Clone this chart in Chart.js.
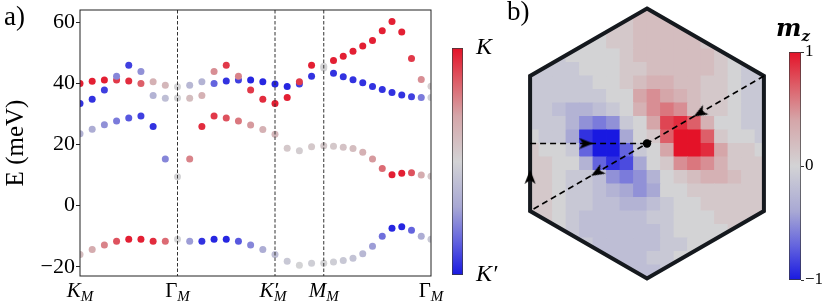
<!DOCTYPE html>
<html>
<head>
<meta charset="utf-8">
<title>Valley-resolved moire bands and m_z</title>
<script src="https://cdn.jsdelivr.net/npm/chart.js@4.4.1/dist/chart.umd.min.js"></script>
<style>
  body { margin: 0; width: 831px; height: 306px; position: relative; overflow: hidden; background: #fff; }
  canvas { position: absolute; }
  .lbl { position: absolute; line-height: 1; color: #000; font-family: 'Liberation Serif', serif; white-space: nowrap; }
</style>
</head>
<body>
<canvas id="bands" width="445" height="306" style="left:0;top:0"></canvas>
<canvas id="cbarK" width="70" height="276" style="left:440px;top:30px"></canvas>
<canvas id="bz" width="300" height="306" style="left:500px;top:0"></canvas>
<canvas id="cbarM" width="56" height="276" style="left:775px;top:30px"></canvas>
<div class="lbl" style="left:4px;top:3px;font-size:27px">a)</div>
<div class="lbl" style="left:507px;top:-2px;font-size:27px">b)</div>
<div class="lbl" style="left:776px;top:16px;font:bold italic 24px 'DejaVu Serif',serif;line-height:1">m<span style="font-size:15px;position:relative;top:5px">z</span></div>
<script>
Chart.defaults.font.family = "'Liberation Serif', serif";

// k path K_M -> Γ_M -> K'_M -> M_M -> Γ_M
const kPath = [0, 1, 2, 3, 4, 5, 6, 7, 8, 9, 10, 11, 12, 13, 14, 15, 16, 17, 18, 19, 20,
  20.8, 21.6, 22.4, 23.2, 24, 24.8, 25.6, 26.4, 27.2, 28, 28.8];
const kTicks = [0, 8, 16, 20, 28.8];
const kTickNames = ['K', 'Γ', 'K′', 'M', 'Γ'];
const eTicks = [-20, 0, 20, 40, 60];

// energies (meV) and valley weight (+1 = K, -1 = K')
const eUpper = [40.0, 40.7, 41.1, 42.3, 45.9, 43.9, 40.5, 39.4, 38.9, 39.4, 40.5, 43.9, 45.9, 42.3, 41.1, 40.5,
  39.8, 39.0, 40.5, 45.9, 45.6, 47.5, 48.9, 50.5, 52.2, 54.0, 57.2, 60.2, 56.8, 48.1, 41.3, 39.1];
const vUpper = [0.95, 0.95, 0.95, -0.55, -0.85, -0.5, 0.3, 0.25, 0, -0.25, -0.3, 0.5, 0.85, 0.55, -0.95, -0.95,
  -0.95, -0.95, 0.85, 0.95, 0, 0.95, 0.95, 0.95, 0.95, 0.95, 0.95, 0.95, 0.95, 0.85, 0.5, 0.05];
const eLower = [33.4, 34.8, 37.8, 41.1, 40.8, 40.0, 36.0, 35.1, 35.2, 35.1, 36.0, 40.0, 40.8, 41.1, 37.8, 34.8,
  33.4, 35.4, 39.8, 42.3, 45.0, 43.3, 42.2, 41.2, 40.2, 39.0, 38.0, 37.0, 36.2, 35.6, 35.4, 35.4];
const vLower = [-0.9, -0.9, -0.85, 0.85, 0.9, 0.7, -0.3, -0.2, 0, 0.2, 0.3, -0.7, -0.9, -0.85, 0.85, 0.9,
  0.95, 0.95, -0.85, -0.9, 0, -0.9, -0.9, -0.9, -0.9, -0.9, -0.9, -0.9, -0.9, -0.85, -0.6, -0.05];
const eMid = [23.5, 25.0, 26.5, 27.7, 28.7, 29.3, 25.9, 15.3, 9.5, 15.3, 25.9, 29.3, 28.7, 27.7, 26.4, 24.9,
  23.4, 18.8, 18.0, 19.3, 19.6, 19.4, 19.1, 18.7, 17.5, 15.3, 12.2, 10.1, 10.6, 10.8, 10.0, 9.6];
const vMid = [-0.3, -0.35, -0.5, -0.6, -0.75, -0.85, -0.9, -0.55, 0, 0.55, 0.9, 0.85, 0.75, 0.6, 0.45, 0.3,
  0.25, 0.1, 0.05, 0.1, 0.1, 0.1, 0.15, 0.2, 0.3, 0.45, 0.65, 0.95, 0.95, 0.75, 0.35, 0.1];
const eLow = [-16.0, -14.3, -12.9, -11.6, -11.0, -11.0, -11.6, -11.6, -11.0, -11.6, -11.6, -11.0, -11.0, -11.6, -12.9, -14.3,
  -16.0, -18.2, -19.5, -18.8, -18.8, -18.4, -17.9, -17.2, -15.7, -13.3, -10.0, -7.4, -6.9, -8.0, -10.0, -11.0];
const vLow = [0.2, 0.35, 0.55, 0.75, 0.95, 0.95, 0.9, 0.65, 0, -0.45, -0.9, -0.95, -0.95, -0.75, -0.55, -0.35,
  -0.2, -0.1, 0, -0.05, 0, -0.05, -0.1, -0.15, -0.25, -0.45, -0.65, -0.95, -0.95, -0.7, -0.35, -0.1];

// panel b: m_z on the moire BZ (tenths), rows top to bottom
const heatU = [-0.85, -0.75, -0.65, -0.55, -0.45, -0.35, -0.25, -0.15, -0.05, 0.05, 0.15, 0.25, 0.35, 0.45, 0.55, 0.65, 0.75, 0.85];
const heatV = [0.95, 0.85, 0.75, 0.65, 0.55, 0.45, 0.35, 0.25, 0.15, 0.05, -0.05, -0.15, -0.25, -0.35, -0.45, -0.55, -0.65, -0.75, -0.85, -0.95];
const mzTenths = [
  [0, 0, 0, 0, 0, 0, 1, 1, 2, 2, 2, 2, 1, 1, 0, 0, 0, 0],
  [0, 0, 0, 0, 0, 0, 1, 1, 2, 2, 2, 2, 2, 1, 0, 0, 0, 0],
  [0, 0, 0, 0, 0, 0, 1, 1, 2, 2, 2, 2, 2, 1, 1, 0, 0, 0],
  [-1, -1, -1, 0, 0, 0, 0, 1, 2, 2, 2, 2, 2, 2, 1, 0, 0, -1],
  [-1, -1, -1, -1, 0, 0, 0, 1, 1, 2, 2, 2, 2, 2, 1, 0, -1, -1],
  [-1, -1, -1, -1, -1, 0, 0, 1, 2, 3, 3, 2, 2, 1, 1, 0, -1, -1],
  [-1, -1, -1, -1, -1, -1, 0, 0, 4, 5, 4, 3, 2, 1, 1, 0, -1, -1],
  [-1, -1, -2, -3, -3, -2, -1, 0, 3, 5, 6, 5, 2, 1, 1, 0, -1, -1],
  [-1, -1, -1, -3, -5, -6, -5, -1, 0, 4, 8, 9, 7, 3, 0, 0, -1, -1],
  [0, -1, -1, -4, -9, -10, -10, -4, 0, 1, 7, 10, 10, 7, 1, 0, 0, -1],
  [1, 0, 0, -1, -7, -10, -10, -7, -1, 0, 4, 10, 10, 9, 4, 1, 1, 0],
  [1, 1, 0, 0, -3, -7, -9, -8, -4, 0, 1, 5, 6, 5, 3, 1, 1, 1],
  [1, 1, 0, -1, -1, -2, -5, -6, -5, -3, 0, 1, 2, 3, 3, 2, 1, 1],
  [1, 1, 0, -1, -1, -2, -3, -4, -5, -4, 0, 0, 1, 1, 1, 1, 1, 1],
  [1, 1, 0, -1, -1, -2, -2, -3, -3, -2, -1, 0, 0, 1, 1, 1, 1, 1],
  [1, 1, 0, -1, -2, -2, -2, -2, -2, -1, -1, 0, 0, 0, 1, 1, 1, 1],
  [1, 0, 0, -1, -2, -2, -2, -2, -2, -2, -1, 0, 0, 0, 0, 1, 1, 1],
  [0, 0, 0, -1, -1, -2, -2, -2, -2, -2, -1, -1, 0, 0, 0, 0, 0, 0],
  [0, 0, 0, 0, -1, -2, -2, -2, -2, -1, -1, 0, 0, 0, 0, 0, 0, 0],
  [0, 0, 0, 0, -1, -1, -2, -2, -2, -2, -1, -1, 0, 0, 0, 0, 0, 0]
];

// BZ outline and path K -> Γ -> K' -> M -> Γ
const hexU = [0, 0.866, 0.866, 0, -0.866, -0.866, 0, 0.866];
const hexV = [1, 0.5, -0.5, -1, -0.5, 0.5, 1, 0.5];
const pathKGU = [0.866, 0, -0.866];
const pathKGV = [0.5, 0, -0.5];
const pathMGU = [-0.866, 0];
const pathMGV = [0, 0];
const arrowU = [0.39, -0.37, -0.866, -0.45];
const arrowV = [0.225, -0.214, -0.246, 0];
const arrowRot = [240, 240, 0, 90];

// colormap (blue - grey - red)
const cmapPos = [-1, -0.7, -0.4, 0, 0.4, 0.7, 1];
const cmapRGB = [[25, 25, 225], [100, 100, 222], [168, 168, 212], [211, 211, 213], [213, 166, 169], [221, 95, 105], [228, 18, 40]];

function cmap(c) {
  c = Math.max(-1, Math.min(1, c));
  let i = 0;
  while (i < cmapPos.length - 2 && c > cmapPos[i + 1]) i++;
  const t = (c - cmapPos[i]) / (cmapPos[i + 1] - cmapPos[i]);
  const a = cmapRGB[i], b = cmapRGB[i + 1];
  return 'rgb(' + a.map((v, j) => Math.round(v + (b[j] - v) * t)).join(',') + ')';
}

function gradientFill(c) {
  const a = c.chart.chartArea;
  if (!a) return null;
  const g = c.chart.ctx.createLinearGradient(0, a.bottom, 0, a.top);
  cmapPos.forEach((p, i) => g.addColorStop((p + 1) / 2, 'rgb(' + cmapRGB[i].join(',') + ')'));
  return g;
}

// arrow head pointing up, rotated per point by Chart.js
function makeArrowHead() {
  const c = document.createElement('canvas');
  c.width = 12;
  c.height = 14;
  const g = c.getContext('2d');
  g.fillStyle = '#000';
  g.beginPath();
  g.moveTo(6, 0);
  g.lineTo(11.5, 14);
  g.lineTo(6, 10.5);
  g.lineTo(0.5, 14);
  g.closePath();
  g.fill();
  return c;
}

const pts = (us, vs) => us.map((u, i) => ({ x: u, y: vs[i] }));

// ---------- panel a ----------
const bandDecor = {
  id: 'bandDecor',
  afterDatasetsDraw(chart) {
    const { ctx, chartArea: a, scales: { x } } = chart;
    ctx.save();
    ctx.strokeStyle = '#333';
    ctx.lineWidth = 1;
    ctx.setLineDash([3.5, 2]);
    kTicks.slice(1, -1).forEach(k => {
      const px = x.getPixelForValue(k);
      ctx.beginPath();
      ctx.moveTo(px, a.top);
      ctx.lineTo(px, a.bottom);
      ctx.stroke();
    });
    ctx.setLineDash([]);
    ctx.strokeStyle = '#222';
    ctx.strokeRect(a.left, a.top, a.right - a.left, a.bottom - a.top);

    ctx.fillStyle = '#000';
    ctx.textBaseline = 'alphabetic';
    kTicks.forEach((k, i) => {
      const name = kTickNames[i];
      const mainFont = (name === 'Γ' ? '' : 'italic ') + '21px "Liberation Serif"';
      const subFont = 'italic 15px "Liberation Serif"';
      ctx.font = mainFont;
      const w1 = ctx.measureText(name).width;
      ctx.font = subFont;
      const w2 = ctx.measureText('M').width;
      const x0 = x.getPixelForValue(k) - (w1 + w2) / 2;
      ctx.font = mainFont;
      ctx.fillText(name, x0, a.bottom + 21);
      ctx.font = subFont;
      ctx.fillText('M', x0 + w1 - (name === 'K′' ? 4 : 0), a.bottom + 25);
    });
    ctx.restore();
  }
};

const bandData = [[eUpper, vUpper], [eLower, vLower], [eMid, vMid], [eLow, vLow]];

new Chart(document.getElementById('bands'), {
  type: 'scatter',
  data: {
    datasets: bandData.map(([e, v]) => ({
      data: kPath.map((k, i) => ({ x: k, y: e[i] })),
      pointRadius: 3.5,
      pointBorderWidth: 0,
      pointBackgroundColor: v.map(cmap)
    }))
  },
  options: {
    responsive: false,
    animation: false,
    devicePixelRatio: 1,
    events: [],
    layout: { padding: { left: 0, right: 14, top: 10, bottom: 30 } },
    plugins: { legend: { display: false }, tooltip: { enabled: false } },
    scales: {
      x: { type: 'linear', min: kPath[0], max: kPath[kPath.length - 1], display: false },
      y: {
        min: -23,
        max: 64,
        afterBuildTicks: s => { s.ticks = eTicks.map(v => ({ value: v })); },
        afterFit: s => { s.width = 80; s.paddingTop = 0; s.paddingBottom = 0; },
        ticks: {
          color: '#000',
          font: { size: 22 },
          padding: 1,
          callback: v => (v < 0 ? '−' + (-v) : '' + v)
        },
        grid: { drawOnChartArea: false, drawTicks: true, tickLength: 4, tickColor: '#222' },
        border: { display: false },
        title: { display: true, text: 'E (meV)', color: '#000', font: { size: 25 }, padding: { top: 1, bottom: 0 } }
      }
    }
  },
  plugins: [bandDecor]
});

// ---------- colorbar a ----------
new Chart(document.getElementById('cbarK'), {
  type: 'bar',
  data: {
    labels: [''],
    datasets: [{
      data: [[-1, 1]],
      backgroundColor: gradientFill,
      borderColor: '#3a3a3a',
      borderWidth: 1,
      borderSkipped: false,
      barPercentage: 1,
      categoryPercentage: 1
    }]
  },
  options: {
    responsive: false,
    animation: false,
    devicePixelRatio: 1,
    events: [],
    layout: { padding: { left: 12, right: 0, top: 18, bottom: 31 } },
    plugins: { legend: { display: false }, tooltip: { enabled: false } },
    scales: {
      x: { display: false },
      y: {
        position: 'right',
        min: -1,
        max: 1,
        afterBuildTicks: s => { s.ticks = [{ value: 1 }, { value: -1 }]; },
        afterFit: s => { s.width = 47; s.paddingTop = 0; s.paddingBottom = 0; },
        ticks: { color: '#000', font: { size: 24, style: 'italic' }, padding: 5, callback: v => (v > 0 ? 'K' : 'K′') },
        grid: { display: false },
        border: { display: false }
      }
    }
  }
});

// ---------- panel b ----------
const heatPts = [];
const heatCols = [];
heatV.forEach((v, j) => heatU.forEach((u, i) => {
  heatPts.push({ x: u, y: v });
  heatCols.push(cmap(mzTenths[j][i] / 10));
}));
const cellSize = heatU[1] - heatU[0];

const hexClip = {
  id: 'hexClip',
  beforeDatasetDraw(chart, args) {
    if (chart.data.datasets[args.index].label !== 'mz') return;
    const { ctx, scales: { x, y } } = chart;
    ctx.save();
    ctx.beginPath();
    hexU.forEach((u, i) => {
      const px = x.getPixelForValue(u), py = y.getPixelForValue(hexV[i]);
      if (i === 0) ctx.moveTo(px, py); else ctx.lineTo(px, py);
    });
    ctx.closePath();
    ctx.clip();
  },
  afterDatasetDraw(chart, args) {
    if (chart.data.datasets[args.index].label === 'mz') chart.ctx.restore();
  }
};

new Chart(document.getElementById('bz'), {
  type: 'scatter',
  data: {
    datasets: [
      {
        label: 'arrows',
        data: pts(arrowU, arrowV),
        pointStyle: makeArrowHead(),
        pointRotation: arrowRot,
        order: 0
      },
      {
        label: 'gamma',
        data: [{ x: 0, y: 0 }],
        pointRadius: 4.2,
        pointBackgroundColor: '#000',
        pointBorderWidth: 0,
        order: 0
      },
      {
        label: 'pathKG',
        data: pts(pathKGU, pathKGV),
        showLine: true,
        borderColor: '#000',
        borderWidth: 1.6,
        borderDash: [6, 4],
        pointRadius: 0,
        order: 1
      },
      {
        label: 'pathMG',
        data: pts(pathMGU, pathMGV),
        showLine: true,
        borderColor: '#000',
        borderWidth: 1.6,
        borderDash: [6, 4],
        pointRadius: 0,
        order: 1
      },
      {
        label: 'hex',
        data: pts(hexU, hexV),
        showLine: true,
        borderColor: '#15191e',
        borderWidth: 4,
        pointRadius: 0,
        clip: false,
        order: 2
      },
      {
        label: 'mz',
        data: heatPts,
        pointStyle: 'rect',
        pointRadius: c => {
          const s = c.chart.scales.x;
          return (s.getPixelForValue(cellSize) - s.getPixelForValue(0) + 0.8) / Math.SQRT2;
        },
        pointBackgroundColor: heatCols,
        pointBorderWidth: 0,
        order: 3
      }
    ]
  },
  options: {
    responsive: false,
    animation: false,
    devicePixelRatio: 1,
    events: [],
    layout: { padding: { left: 12, right: 18, top: 8.5, bottom: 27.5 } },
    plugins: { legend: { display: false }, tooltip: { enabled: false } },
    scales: {
      x: { type: 'linear', min: -1, max: 1, display: false },
      y: { type: 'linear', min: -1, max: 1, display: false }
    }
  },
  plugins: [hexClip]
});

// ---------- colorbar b ----------
new Chart(document.getElementById('cbarM'), {
  type: 'bar',
  data: {
    labels: [''],
    datasets: [{
      data: [[-1, 1]],
      backgroundColor: gradientFill,
      borderColor: '#3a3a3a',
      borderWidth: 1,
      borderSkipped: false,
      barPercentage: 1,
      categoryPercentage: 1
    }]
  },
  options: {
    responsive: false,
    animation: false,
    devicePixelRatio: 1,
    events: [],
    layout: { padding: { left: 14, right: 0, top: 22, bottom: 26 } },
    plugins: { legend: { display: false }, tooltip: { enabled: false } },
    scales: {
      x: { display: false },
      y: {
        position: 'right',
        min: -1,
        max: 1,
        afterBuildTicks: s => { s.ticks = [{ value: 1 }, { value: 0 }, { value: -1 }]; },
        afterFit: s => { s.width = 30; s.paddingTop = 0; s.paddingBottom = 0; },
        ticks: { color: '#000', font: { size: 17 }, padding: 1, callback: v => (v < 0 ? '−' + (-v) : '' + v) },
        grid: { drawOnChartArea: false, drawTicks: true, tickLength: 3, tickColor: '#333' },
        border: { display: false }
      }
    }
  }
});
</script>
</body>
</html>
